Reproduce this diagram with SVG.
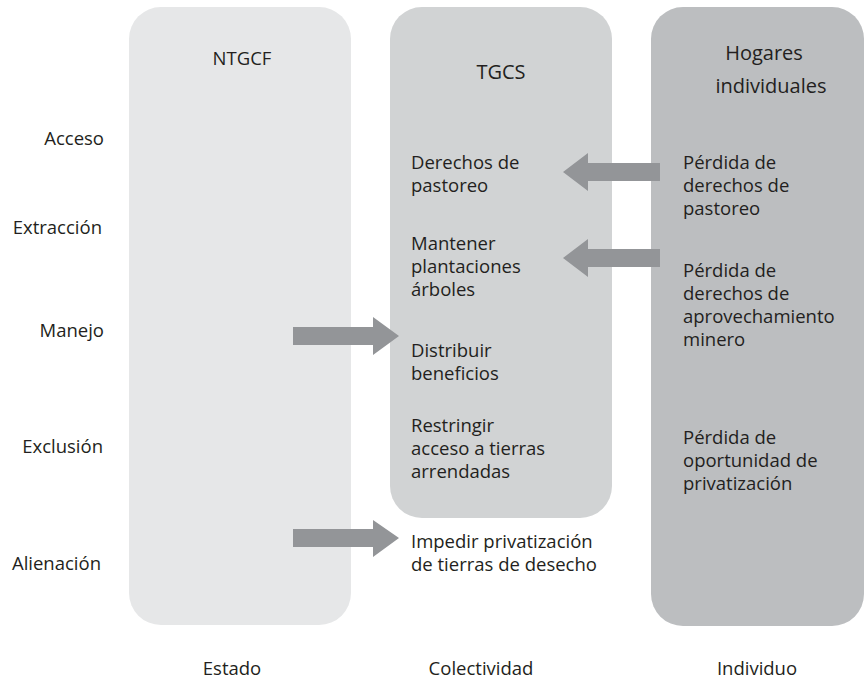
<svg xmlns="http://www.w3.org/2000/svg" width="865" height="679" viewBox="0 0 865 679">
<style>
text{font-family:"Open Sans","Noto Sans","Liberation Sans",sans-serif;font-size:18.5px;fill:#231f20}
.r{text-anchor:end}
.c{text-anchor:middle}
.t{font-size:20px}
.arrow{fill:#939598}
</style>
<rect width="865" height="679" fill="#ffffff"/>
<g id="ntgcf">
<rect x="129" y="7" width="222" height="618" rx="32" fill="#e6e7e8"/>
<text class="c" x="242" y="65">NTGCF</text>
</g>
<g id="tgcs">
<rect x="390" y="7" width="222" height="511" rx="32" fill="#d1d3d4"/>
<text class="c t" x="501" y="79">TGCS</text>
<text x="411"><tspan x="411" y="169">Derechos de</tspan><tspan x="411" y="192">pastoreo</tspan></text>
<text x="411"><tspan x="411" y="250">Mantener</tspan><tspan x="411" y="273">plantaciones</tspan><tspan x="411" y="296">árboles</tspan></text>
<text x="411"><tspan x="411" y="357">Distribuir</tspan><tspan x="411" y="380">beneficios</tspan></text>
<text x="411"><tspan x="411" y="432">Restringir</tspan><tspan x="411" y="455">acceso a tierras</tspan><tspan x="411" y="478">arrendadas</tspan></text>
</g>
<g id="impedir">
<text x="411"><tspan x="411" y="548">Impedir privatización</tspan><tspan x="411" y="571">de tierras de desecho</tspan></text>
</g>
<g id="hogares">
<rect x="651" y="7" width="213" height="619" rx="32" fill="#bcbec0"/>
<text class="c t"><tspan x="764" y="60">Hogares</tspan><tspan x="771" y="93">individuales</tspan></text>
<text><tspan x="683" y="169">Pérdida de</tspan><tspan x="683" y="192">derechos de</tspan><tspan x="683" y="215">pastoreo</tspan></text>
<text><tspan x="683" y="277">Pérdida de</tspan><tspan x="683" y="300">derechos de</tspan><tspan x="683" y="323">aprovechamiento</tspan><tspan x="683" y="346">minero</tspan></text>
<text><tspan x="683" y="444">Pérdida de</tspan><tspan x="683" y="467">oportunidad de</tspan><tspan x="683" y="490">privatización</tspan></text>
</g>
<g id="row-labels">
<text class="r" x="104" y="145">Acceso</text>
<text class="r" x="102" y="234">Extracción</text>
<text class="r" x="104" y="337">Manejo</text>
<text class="r" x="103" y="453">Exclusión</text>
<text class="r" x="101" y="570">Alienación</text>
</g>
<g id="column-labels">
<text class="c" x="232" y="675">Estado</text>
<text class="c" x="481" y="675">Colectividad</text>
<text class="c" x="757" y="675">Individuo</text>
</g>
<g id="connectors">
<polygon class="arrow" points="660,163 588,163 588,153 563,172 588,191 588,181 660,181"/>
<polygon class="arrow" points="660,249 588,249 588,239 563,258 588,277 588,267 660,267"/>
<polygon class="arrow" points="293,327 373,327 373,317 399,336 373,355 373,345 293,345"/>
<polygon class="arrow" points="293,529 373,529 373,520 399,538 373,557 373,547 293,547"/>
</g>
</svg>
